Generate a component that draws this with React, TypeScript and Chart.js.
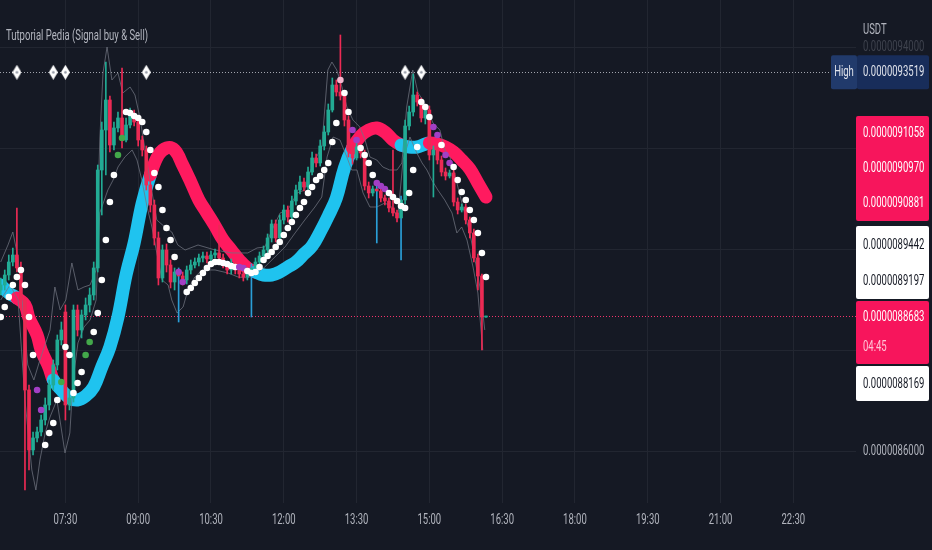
import React, { useEffect, useRef } from 'react';
import { Chart, registerables } from 'chart.js';

Chart.register(...registerables);

// prices are stored in units of 1e-10 USDT
const UNIT = 1e-10;
const START_MINUTES = 6 * 60 + 10; // first candle 06:10
const BAR_MINUTES = 5;

const TIME_LABELS = ['07:30', '09:00', '10:30', '12:00', '13:30', '15:00', '16:30', '18:00', '19:30', '21:00', '22:30'];
const PRICE_TICKS = [86000, 88000, 90000, 92000, 94000];

const OPEN = [
  89208, 89307, 89505, 89762, 89901, 89644, 89010, 87228, 86040, 86278,
  86396, 86634, 86931, 87327, 87723, 88218, 88772, 86931, 87070, 88812,
  88416, 88713, 88911, 89109, 89644, 91584, 92376, 92970, 92079, 92416,
  92614, 92178, 92475, 92693, 92534, 92178, 91980, 91287, 90891, 90238,
  89446, 90000, 89703, 89366, 89564, 89485, 89406, 89604, 89703, 89762,
  89842, 89881, 89822, 89901, 89941, 89842, 89703, 89604, 89743, 89604,
  89525, 89465, 89564, 89644, 89762, 89881, 90000, 90238, 90515, 90238,
  90594, 90792, 90653, 90970, 91188, 91346, 91247, 91544, 91822, 91723,
  92059, 92336, 92772, 93267, 93128, 93049, 92574, 91980, 91822, 92039,
  91921, 91267, 91129, 91208, 91168, 91030, 90970, 90832, 90733, 90634,
  90990, 92455, 92732, 93069, 92930, 92614, 92772, 91881, 91980, 91782,
  91544, 91465, 91525, 90950, 90792, 90851, 90594, 90337, 89842, 89485,
  88673,
];
const HIGH = [
  89446, 89604, 89901, 90040, 90832, 89762, 89069, 87327, 86396, 86495,
  86733, 87070, 87426, 87822, 88317, 88574, 88911, 87228, 88911, 88911,
  88812, 89050, 89248, 89762, 91683, 92534, 93722, 93049, 92534, 92732,
  93604, 92614, 92812, 92772, 92614, 92257, 92059, 91386, 90990, 90356,
  90099, 90119, 89802, 89644, 89644, 89564, 89683, 89802, 89842, 89921,
  89960, 89960, 89980, 90020, 90495, 89921, 89762, 89822, 89802, 89683,
  89604, 89644, 89723, 89842, 89960, 90079, 90317, 90594, 90594, 90693,
  90891, 90871, 91069, 91287, 91465, 91426, 91643, 91940, 91901, 92178,
  92455, 92891, 93406, 93366, 94257, 93128, 92653, 92079, 92119, 92099,
  91980, 91346, 91267, 91267, 91228, 91089, 91030, 91980, 90792, 91069,
  92574, 92851, 93485, 93128, 93010, 92851, 92851, 92059, 92059, 91861,
  91624, 91584, 91584, 91030, 90911, 90911, 90653, 90416, 89921, 89525,
  88693,
];
const LOW = [
  89109, 89208, 89406, 89683, 89564, 88812, 85248, 85644, 85941, 86198,
  86317, 86535, 86832, 87228, 87624, 88119, 86634, 86832, 86990, 88297,
  88258, 88614, 88772, 89010, 89564, 90693, 91485, 91940, 91980, 92336,
  92020, 92138, 92416, 92455, 92059, 91861, 91188, 90752, 90099, 89307,
  89366, 89564, 89248, 89208, 88574, 89307, 89327, 89525, 89644, 89683,
  89762, 89743, 89762, 89842, 89762, 89644, 89525, 89525, 89525, 89446,
  89386, 89406, 88673, 89564, 89703, 89842, 89921, 90158, 90158, 90198,
  90515, 90554, 90594, 90891, 91109, 91168, 91188, 91485, 91643, 91663,
  91980, 92277, 92732, 93049, 92970, 92455, 91841, 91703, 91782, 91822,
  91188, 91030, 91069, 90139, 90950, 90891, 90752, 90673, 90554, 89802,
  90911, 92376, 92653, 92851, 92534, 92495, 91782, 91049, 91703, 91465,
  91386, 91426, 90871, 90713, 90752, 90515, 90238, 89762, 89208, 88020,
  88663,
];
const CLOSE = [
  89307, 89505, 89762, 89901, 89644, 89010, 87228, 86040, 86278, 86396,
  86634, 86931, 87327, 87723, 88218, 88416, 86931, 87070, 88812, 88416,
  88713, 88911, 89109, 89644, 91584, 92376, 92970, 92079, 92416, 92614,
  92178, 92475, 92693, 92534, 92178, 91980, 91287, 90891, 90238, 89446,
  90000, 89703, 89366, 89564, 89485, 89406, 89604, 89703, 89762, 89842,
  89881, 89822, 89901, 89941, 89842, 89703, 89604, 89743, 89604, 89525,
  89465, 89564, 89644, 89762, 89881, 90000, 90238, 90515, 90238, 90594,
  90792, 90653, 90970, 91188, 91346, 91247, 91544, 91822, 91723, 92059,
  92336, 92772, 93267, 93128, 93049, 92574, 91980, 91822, 92039, 91921,
  91267, 91129, 91208, 91168, 91030, 90970, 90832, 90733, 90634, 90990,
  92455, 92732, 93069, 92930, 92614, 92772, 91881, 91980, 91782, 91544,
  91465, 91525, 90950, 90792, 90851, 90594, 90337, 89842, 89485, 88673,
  88683,
];
// candles whose wick is painted blue
const BLUE_WICKS = [44, 62, 93, 99];

// trailing stop dots, one per candle
const SAR = [
  88673, 88871, 89069, 89307, 89465, 89604, 89307, 88673, 87921, 87228,
  86832, 86139, 86377, 86575, 87030, 87386, 88079, 87921, 87169, 87367,
  87584, 87921, 88178, 88376, 88753, 89406, 90198, 90950, 91485, 91881,
  92218, 92732, 92713, 92653, 92614, 92534, 92336, 91980, 91525, 91247,
  90792, 90436, 90198, 89861, 89564, 89366, 89168, 89248, 89347, 89446,
  89545, 89644, 89723, 89762, 89762, 89743, 89723, 89683, 89663, 89663,
  89644, 89584, 89545, 89564, 89663, 89802, 89881, 89960, 90059, 90158,
  90297, 90436, 90554, 90693, 90832, 90950, 91129, 91247, 91386, 91465,
  91584, 91723, 92138, 92515, 93366, 93109, 92732, 92376, 92178, 92020,
  91881, 91723, 91485, 91327, 91267, 91208, 91129, 91049, 90970, 90871,
  90832, 91129, 91584, 92039, 92930, 92831, 92633, 92435, 92277, 92079,
  91881, 91723, 91643, 91386, 91148, 90990, 90792, 90594, 90337, 89941,
  89465,
];
const PURPLE_DOTS = [9, 10, 44, 45, 59, 60, 87, 88, 93, 94, 95, 107, 108, 110, 111];
const GREEN_DOTS = [15, 21, 22, 29, 30];
const PINK_DOTS = [84];

// smoothed trend line, sampled at candle indexes
const MA_IDX = [
  0, 2, 4, 6, 7, 9, 10, 12, 13, 15, 17, 19, 21, 23, 25, 27, 29, 31, 33, 35,
  37, 39, 41, 43, 45, 47, 49, 51, 53, 55, 57, 59, 61, 63, 65, 67, 69, 71, 73, 75,
  77, 79, 81, 83, 85, 87, 89, 91, 93, 95, 97, 99, 101, 103, 105, 106, 108, 110, 112, 114,
  116, 118, 120,
];
const MA_VAL = [
  89307, 89149, 89050, 88911, 88654, 88317, 88020, 87664, 87426, 87228, 87070, 87030, 87109, 87287, 87683, 88079, 88673, 89505, 90139, 90931,
  91485, 91881, 92020, 91980, 91683, 91346, 90990, 90733, 90475, 90198, 90000, 89802, 89644, 89564, 89505, 89505, 89564, 89663, 89762, 89921,
  90079, 90356, 90673, 91030, 91624, 92020, 92257, 92376, 92416, 92336, 92178, 92079, 92039, 92039, 92099, 92119, 92099, 92039, 91940, 91782,
  91604, 91327, 91049,
];
const MA_UP = [
  1, 1, 0, 0, 0, 0, 0, 0, 1, 1, 1, 1, 1, 1, 1, 1, 1, 1, 1, 1,
  0, 0, 0, 0, 0, 0, 0, 0, 0, 0, 0, 0, 0, 1, 1, 1, 1, 1, 1, 1,
  1, 1, 1, 1, 1, 0, 0, 0, 0, 0, 0, 1, 1, 1, 1, 0, 0, 0, 0, 0,
  0, 0, 0,
];

// grey channel lines: [candle index, price]
const UPPER_BAND = [
  [0, 89762], [1.8, 90099], [3, 90356], [4.3, 89842], [5.3, 89010], [6.7, 87723], [8.2, 87426], [9.7, 87822],
  [12.2, 88416], [13.4, 89267], [14.7, 88812], [16.1, 89010], [17.6, 89743], [19.1, 89208], [20.6, 89267],
  [22.1, 89307], [23.6, 89604], [24.5, 92178], [25.3, 93505], [26.3, 94019], [27.5, 93366], [29, 93505],
  [30.2, 93109], [32, 93227], [33.2, 93069], [34.4, 92633], [35.7, 91980], [36.9, 91386], [38.6, 90594],
  [40.6, 90455], [42.3, 90356], [43.8, 90099], [45.6, 90000], [48.8, 90099], [53, 90000], [57.2, 89941],
  [61.1, 89941], [63.4, 90040], [65.3, 90059], [67.1, 90396], [69.1, 90733], [71, 90792], [73.3, 91129],
  [75.2, 91188], [76, 91445], [77.7, 91782], [79.4, 92039], [80.9, 93564], [81.9, 93722], [83.1, 93564],
  [84.4, 93227], [85.6, 92831], [87.1, 92574], [88.8, 92435], [90.1, 92178], [91.3, 91841], [93, 91782],
  [94.5, 91643], [96.2, 91584], [98, 91584], [99.2, 91723], [100.4, 92831], [101.9, 93564], [103.2, 93109],
  [104.4, 92970], [105.6, 92772], [106.9, 92515], [108.6, 92376], [109.8, 91980], [111.1, 91841], [112.8, 91327],
  [114.3, 90851], [116, 90337], [117.3, 89802], [118.5, 89267], [119.7, 88416],
];
const LOWER_BAND = [
  [0, 89010], [2.3, 89307], [4.3, 89010], [6, 87030], [7.7, 85644], [8.7, 85248], [9.7, 85842], [11, 86377],
  [12.2, 86693], [13.9, 87030], [15.9, 85981], [17.1, 86377], [17.9, 87426], [19.1, 88159], [20.6, 88475],
  [22.1, 88614], [23.6, 89010], [24.5, 90733], [26.5, 91188], [27.8, 91386], [29, 91643], [30.7, 91841],
  [32.5, 91980], [33.7, 91782], [34.9, 91386], [36.2, 90851], [37.4, 90455], [38.6, 89941], [39.9, 89406],
  [41.4, 89307], [42.3, 89010], [43.6, 88753], [45.1, 88871], [46.3, 89208], [48, 89465], [49.8, 89604],
  [53, 89604], [56.2, 89545], [58.7, 89465], [61.1, 89446], [63.4, 89545], [65.3, 89663], [67.8, 89861],
  [70.3, 90059], [72.8, 90337], [75.2, 90594], [77.7, 90851], [79.4, 91049], [80.7, 91841], [82.2, 92237],
  [83.9, 92178], [85.6, 91841], [86.8, 91584], [88.1, 91584], [89.6, 91129], [91.3, 90851], [93, 90851],
  [95, 90931], [96.7, 90851], [98.2, 90653], [99.5, 91782], [101.2, 92237], [102.9, 91921], [104.2, 91723],
  [105.4, 91584], [106.6, 91386], [108.1, 91188], [109.8, 90990], [111.6, 90733], [112.8, 90337], [114, 90455],
  [115.3, 90198], [116.8, 89663], [118, 89149], [119.2, 88020],
];

// signal markers sit on the session-high line
const SIGNAL_IDX = [4, 13, 16, 36, 100, 104];
const HIGH_PRICE = 93519;
const LAST_PRICE = 88683;
const COUNTDOWN = '04:45';
const PINK_TAGS = [91058, 90970, 90881];
const WHITE_TAGS = [89442, 89197];
const LOW_TAG = 88169;

const TITLE = 'Tutporial Pedia (Signal buy & Sell)';
const CURRENCY = 'USDT';

const BG = '#151924';
const GRID = '#222631';
const TEXT = '#b2b5be';
const UP = '#22ab94';
const DOWN = '#ec2a54';
const CYAN = '#1fc3ef';
const PINK = '#ff1a5f';
const TAG_PINK = '#f7155c';
const BAND = 'rgba(112,116,128,0.75)';

const fmt = (v: number) => (v * UNIT).toFixed(10);
const toMin = (t: string) => {
  const [h, m] = t.split(':').map(Number);
  return h * 60 + m;
};
const TICK_IDX = TIME_LABELS.map((t) => (toMin(t) - START_MINUTES) / BAR_MINUTES);

function label(ctx: CanvasRenderingContext2D, s: string, x: number, y: number, color: string, align: CanvasTextAlign = 'left') {
  ctx.save();
  ctx.font = '14px Roboto';
  ctx.fillStyle = color;
  ctx.textBaseline = 'middle';
  ctx.textAlign = align;
  ctx.translate(x, y);
  ctx.scale(0.68, 1);
  ctx.fillText(s, 0, 0);
  ctx.restore();
}

function tagBox(ctx: CanvasRenderingContext2D, x: number, y: number, w: number, h: number, fill: string) {
  ctx.fillStyle = fill;
  ctx.beginPath();
  ctx.roundRect(x, y, w, h, 2);
  ctx.fill();
}

const overlay = {
  id: 'overlay',
  beforeDraw(chart: any) {
    const { ctx, width, height } = chart;
    ctx.save();
    ctx.fillStyle = BG;
    ctx.fillRect(0, 0, width, height);
    ctx.restore();
  },
  beforeDatasetsDraw(chart: any) {
    const { ctx, chartArea, scales } = chart;
    ctx.save();
    ctx.lineWidth = 1;
    ctx.setLineDash([1, 2]);
    const hy = Math.round(scales.y.getPixelForValue(HIGH_PRICE)) + 0.5;
    ctx.strokeStyle = 'rgba(210,212,220,0.75)';
    ctx.beginPath();
    ctx.moveTo(chartArea.left, hy);
    ctx.lineTo(chartArea.right, hy);
    ctx.stroke();
    const ly = Math.round(scales.y.getPixelForValue(LAST_PRICE)) + 0.5;
    ctx.strokeStyle = '#f2336b';
    ctx.beginPath();
    ctx.moveTo(chartArea.left, ly);
    ctx.lineTo(chartArea.right, ly);
    ctx.stroke();
    ctx.restore();
  },
  afterDraw(chart: any) {
    const { ctx, scales } = chart;
    const xs = scales.x;
    const ys = scales.y;

    label(ctx, TITLE, 6, 36, TEXT);

    xs.ticks.forEach((t: any, k: number) => {
      label(ctx, TIME_LABELS[k], xs.getPixelForValue(t.value), 520, TEXT, 'center');
    });
    PRICE_TICKS.forEach((v) => {
      label(ctx, fmt(v), 863, ys.getPixelForValue(v), v === 94000 ? '#3f434e' : TEXT);
    });
    label(ctx, CURRENCY, 863, 30, TEXT);

    // session high tag
    const hy = ys.getPixelForValue(HIGH_PRICE);
    tagBox(ctx, 831, hy - 17, 26, 34, '#213a6b');
    tagBox(ctx, 857, hy - 17, 72, 34, '#182d5a');
    label(ctx, 'High', 844, hy, '#e0e3eb', 'center');
    label(ctx, fmt(HIGH_PRICE), 863, hy, '#e0e3eb');

    // indicator value tags, stacked
    tagBox(ctx, 856, 116, 73, 105, TAG_PINK);
    PINK_TAGS.forEach((v, k) => label(ctx, fmt(v), 863, 133 + k * 35, '#ffffff'));

    tagBox(ctx, 856, 226, 73, 73, '#ffffff');
    WHITE_TAGS.forEach((v, k) => label(ctx, fmt(v), 863, 245 + k * 36, '#131722'));

    const ly = ys.getPixelForValue(LAST_PRICE);
    tagBox(ctx, 856, 301, 73, 63, TAG_PINK);
    label(ctx, fmt(LAST_PRICE), 863, ly + 1, '#ffffff');
    label(ctx, COUNTDOWN, 863, ly + 31, '#ffc4d6');

    tagBox(ctx, 856, 366, 73, 35, '#ffffff');
    label(ctx, fmt(LOW_TAG), 863, 384, '#131722');
  },
};

function makeDiamond(): HTMLCanvasElement {
  const c = document.createElement('canvas');
  c.width = 9;
  c.height = 15;
  const g = c.getContext('2d')!;
  g.fillStyle = '#ffffff';
  g.beginPath();
  g.moveTo(4.5, 0);
  g.lineTo(9, 7.5);
  g.lineTo(4.5, 15);
  g.lineTo(0, 7.5);
  g.closePath();
  g.fill();
  g.fillStyle = '#8e93a0';
  g.beginPath();
  g.arc(4.5, 7.5, 1.3, 0, Math.PI * 2);
  g.fill();
  return c;
}

const App: React.FC = () => {
  const canvasRef = useRef<HTMLCanvasElement | null>(null);
  const chartInstance = useRef<Chart | null>(null);

  useEffect(() => {
    document.body.style.margin = '0';
    document.body.style.background = BG;
    if (!canvasRef.current) return;
    if (chartInstance.current) chartInstance.current.destroy();

    const candleColors = OPEN.map((o, i) => (CLOSE[i] >= o ? UP : DOWN));
    const wickColors = candleColors.map((c, i) => (BLUE_WICKS.includes(i) ? '#2a9fd8' : c));
    const dotColors = SAR.map((_, i) => {
      if (PURPLE_DOTS.includes(i)) return '#a23fc4';
      if (GREEN_DOTS.includes(i)) return '#43a84a';
      if (PINK_DOTS.includes(i)) return '#f4b8cf';
      return '#ffffff';
    });

    chartInstance.current = new Chart(canvasRef.current, {
      type: 'bar',
      data: {
        datasets: [
          {
            type: 'line',
            data: SAR.map((v, i) => ({ x: i, y: v })),
            showLine: false,
            pointRadius: 3.3,
            pointBorderWidth: 0,
            pointBackgroundColor: dotColors,
            order: 0,
          },
          {
            type: 'line',
            data: SIGNAL_IDX.map((i) => ({ x: i, y: HIGH_PRICE })),
            showLine: false,
            pointStyle: makeDiamond(),
            pointRadius: 7,
            order: 0,
          },
          {
            type: 'bar',
            data: OPEN.map((o, i) => ({ x: i, y: [o, CLOSE[i]] })),
            backgroundColor: candleColors,
            barThickness: 3,
            minBarLength: 1,
            grouped: false,
            order: 1,
          },
          {
            type: 'bar',
            data: LOW.map((l, i) => ({ x: i, y: [l, HIGH[i]] })),
            backgroundColor: wickColors,
            barThickness: 1,
            grouped: false,
            order: 2,
          },
          {
            type: 'line',
            data: UPPER_BAND.map(([x, y]) => ({ x, y })),
            borderColor: BAND,
            borderWidth: 1,
            pointRadius: 0,
            order: 3,
          },
          {
            type: 'line',
            data: LOWER_BAND.map(([x, y]) => ({ x, y })),
            borderColor: BAND,
            borderWidth: 1,
            pointRadius: 0,
            order: 3,
          },
          {
            type: 'line',
            data: MA_IDX.map((x, k) => ({ x, y: MA_VAL[k] })),
            borderColor: PINK,
            borderWidth: 13,
            borderCapStyle: 'round',
            borderJoinStyle: 'round',
            tension: 0.4,
            pointRadius: 0,
            segment: {
              borderColor: (c: any) => (MA_UP[c.p0DataIndex] ? CYAN : PINK),
            },
            order: 4,
          },
        ] as any,
      },
      options: {
        animation: false,
        responsive: false,
        events: [],
        layout: { padding: 0, autoPadding: false },
        plugins: {
          legend: { display: false },
          tooltip: { enabled: false },
        },
        scales: {
          x: {
            type: 'linear',
            min: -0.173,
            max: 211.5,
            offset: false,
            grid: { color: GRID, offset: false, drawTicks: false },
            border: { display: false },
            ticks: { display: false },
            afterBuildTicks: (s: any) => {
              s.ticks = TICK_IDX.map((v) => ({ value: v }));
            },
            afterFit: (s: any) => {
              s.height = 47;
            },
          },
          y: {
            type: 'linear',
            position: 'right',
            min: 84990,
            max: 94950,
            grid: { color: GRID, drawTicks: false },
            border: { display: false },
            ticks: { display: false },
            afterBuildTicks: (s: any) => {
              s.ticks = PRICE_TICKS.map((v) => ({ value: v }));
            },
            afterFit: (s: any) => {
              s.width = 76;
            },
          },
        },
      } as any,
      plugins: [overlay],
    });

    return () => {
      if (chartInstance.current) {
        chartInstance.current.destroy();
        chartInstance.current = null;
      }
    };
  }, []);

  return (
    <div style={{ width: 932, height: 550, background: BG }}>
      <canvas ref={canvasRef} width={932} height={550} style={{ width: 932, height: 550, display: 'block' }} />
    </div>
  );
};

export default App;
